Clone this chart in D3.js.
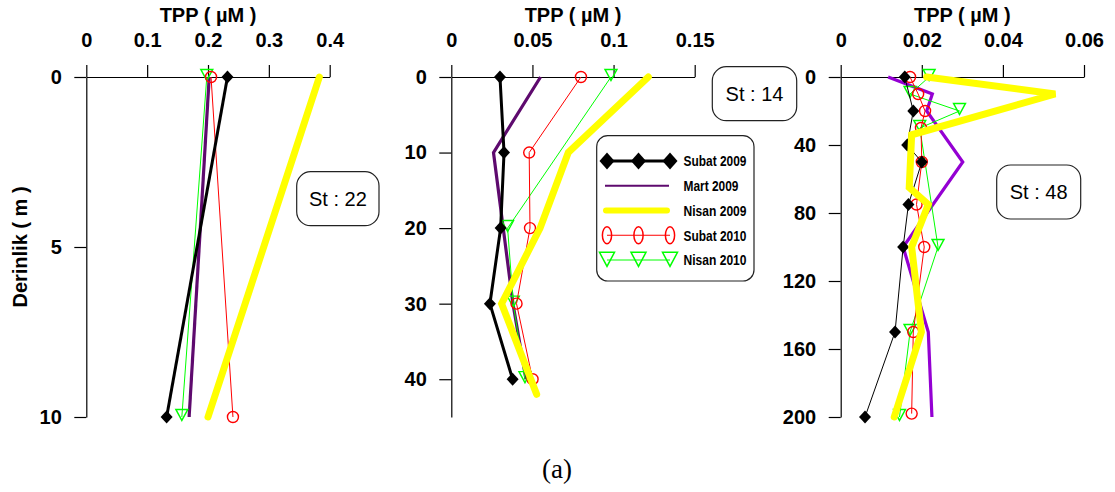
<!DOCTYPE html>
<html>
<head>
<meta charset="utf-8">
<script src="https://cdn.jsdelivr.net/npm/d3@7"></script>
<style>
  html, body { margin: 0; padding: 0; background: #fff; }
  svg { display: block; }
  text { font-family: "Liberation Sans", Arial, sans-serif; }
</style>
</head>
<body>
<svg id="chart" width="1115" height="492"></svg>
<script>
// ---- Series names (legend order) ----
const seriesNames = ["Subat 2009", "Mart 2009", "Nisan 2009", "Subat 2010", "Nisan 2010"];

// ---- Station labels ----
const stationLabels = ["St : 22", "St : 14", "St : 48"];

// ---- Axis ticks per station ----
const st22XTicks = [0, 0.1, 0.2, 0.3, 0.4];
const st22YTicks = [0, 5, 10];
const st14XTicks = [0, 0.05, 0.1, 0.15];
const st14YTicks = [0, 10, 20, 30, 40];
const st48XTicks = [0, 0.02, 0.04, 0.06];
const st48YTicks = [0, 40, 80, 120, 160, 200];

// ---- TPP (µM) profiles: [depth (m), value] ----
// St 22
const st22Subat2009 = [[0, 0.232], [10, 0.132]];
const st22Mart2009  = [[0, 0.202], [10, 0.169]];
const st22Nisan2009 = [[0, 0.383], [10, 0.200]];
const st22Subat2010 = [[0, 0.205], [10, 0.241]];
const st22Nisan2010 = [[0, 0.198], [10, 0.157]];

// St 14
const st14Subat2009 = [[0, 0.030], [10, 0.0325], [20, 0.0304], [30, 0.0238], [40, 0.0378]];
const st14Mart2009  = [[0, 0.055], [10, 0.026], [30, 0.038], [40, 0.046]];
const st14Nisan2009 = [[0, 0.1214], [10, 0.0721], [20, 0.0547], [30, 0.031], [42, 0.0526]];
const st14Subat2010 = [[0, 0.0799], [10, 0.048], [20, 0.0485], [30, 0.0402], [40, 0.0501]];
const st14Nisan2010 = [[0, 0.0984], [20, 0.0347], [30, 0.0382], [40, 0.0454]];

// St 48
const st48Subat2009 = [[0, 0.0158], [20, 0.0179], [40, 0.0164], [50, 0.0200], [75, 0.0167], [100, 0.0154], [150, 0.0134], [200, 0.0060]];
const st48Mart2009  = [[0, 0.0117], [10, 0.0226], [20, 0.0212], [50, 0.0301], [100, 0.0154], [150, 0.0216], [200, 0.0225]];
const st48Nisan2009 = [[0, 0.0212], [10, 0.0529], [34, 0.0175], [65, 0.0169], [75, 0.0216], [100, 0.0175], [150, 0.0199], [200, 0.0132]];
const st48Subat2010 = [[0, 0.0171], [10, 0.0191], [20, 0.0208], [30, 0.0198], [50, 0.0200], [75, 0.0187], [100, 0.0206], [150, 0.0179], [198, 0.0175]];
const st48Nisan2010 = [[0, 0.0218], [10, 0.0171], [20, 0.0293], [30, 0.0195], [100, 0.0240], [150, 0.0171], [200, 0.0145]];

// ---- Layout / styling ----
const svg = d3.select("#chart");

const panels = [
  { left: 86.3, right: 329.7, xMax: 0.4, yMax: 10, xTicks: st22XTicks, yTicks: st22YTicks,
    data: [st22Subat2009, st22Mart2009, st22Nisan2009, st22Subat2010, st22Nisan2010],
    thinBlack: false, purple: "#5e0a6e", box: { x: 296.7, y: 171.7, w: 82.3, h: 54 }, yTitle: true },
  { left: 451.3, right: 694.7, xMax: 0.15, yMax: 45, xTicks: st14XTicks, yTicks: st14YTicks,
    data: [st14Subat2009, st14Mart2009, st14Nisan2009, st14Subat2010, st14Nisan2010],
    thinBlack: false, purple: "#5e0a6e", box: { x: 712.3, y: 66.7, w: 84.4, h: 54 }, legend: true },
  { left: 840.7, right: 1084, xMax: 0.06, yMax: 200, xTicks: st48XTicks, yTicks: st48YTicks,
    data: [st48Subat2009, st48Mart2009, st48Nisan2009, st48Subat2010, st48Nisan2010],
    thinBlack: true, purple: "#9400d3", box: { x: 996.7, y: 165, w: 84, h: 54 } }
];

const plotTop = 77, plotBottom = 417;
const fmt = d => String(d);

function diamondPath(w, h) {
  return `M0,${-h / 2}L${w / 2},0L0,${h / 2}L${-w / 2},0Z`;
}
function triDownPath(w, h) {
  // downward-pointing triangle centred on its point
  return `M${-w / 2},${-h * 0.55}L${w / 2},${-h * 0.55}L0,${h * 0.45}Z`;
}

panels.forEach((p, i) => {
  const x = d3.scaleLinear().domain([0, p.xMax]).range([p.left, p.right]);
  const y = d3.scaleLinear().domain([0, p.yMax]).range([plotTop, plotBottom]);
  const g = svg.append("g");

  // axes
  const xAxis = d3.axisTop(x).tickValues(p.xTicks).tickFormat(fmt)
    .tickSize(12).tickSizeOuter(0).tickPadding(18);
  const yAxis = d3.axisLeft(y).tickValues(p.yTicks).tickFormat(fmt)
    .tickSize(12).tickSizeOuter(0).tickPadding(12.5);

  const gx = g.append("g").attr("transform", `translate(0,${plotTop})`).call(xAxis);
  const gy = g.append("g").attr("transform", `translate(${p.left},0)`).call(yAxis);
  [gx, gy].forEach(a => {
    a.selectAll("path.domain").attr("stroke", "#000").attr("stroke-width", 1.2);
    a.selectAll(".tick line").attr("stroke", "#000").attr("stroke-width", 1.2);
    a.selectAll(".tick text").attr("fill", "#000")
      .style("font-size", "20px").style("font-weight", "bold")
      .style("font-family", '"Liberation Sans", Arial, sans-serif');
  });

  // x-axis title
  g.append("text")
    .attr("x", (p.left + p.right) / 2).attr("y", 22)
    .attr("text-anchor", "middle")
    .style("font-size", "20px").style("font-weight", "bold")
    .text("TPP ( µM )");

  if (p.yTitle) {
    g.append("text")
      .attr("transform", `translate(27,247) rotate(-90)`)
      .attr("text-anchor", "middle")
      .style("font-size", "20px").style("font-weight", "bold")
      .text("Derinlik ( m )");
  }

  const line = d3.line().x(d => x(d[1])).y(d => y(d[0]));
  const [sub09, mar09, nis09, sub10, nis10] = p.data;

  // Mart 2009
  g.append("path").datum(mar09).attr("d", line)
    .attr("fill", "none").attr("stroke", p.purple).attr("stroke-width", 3.2)
    .attr("stroke-linejoin", "miter");

  // Nisan 2010
  g.append("path").datum(nis10).attr("d", line)
    .attr("fill", "none").attr("stroke", "#00ff00").attr("stroke-width", 1);
  g.selectAll(null).data(nis10).enter().append("path")
    .attr("d", triDownPath(12, 11))
    .attr("transform", d => `translate(${x(d[1])},${y(d[0]) - 1.5})`)
    .attr("fill", "none").attr("stroke", "#00ff00").attr("stroke-width", 1.4);

  // Subat 2010
  g.append("path").datum(sub10).attr("d", line)
    .attr("fill", "none").attr("stroke", "#ff0000").attr("stroke-width", 1);
  g.selectAll(null).data(sub10).enter().append("circle")
    .attr("cx", d => x(d[1])).attr("cy", d => y(d[0])).attr("r", 5.5)
    .attr("fill", "none").attr("stroke", "#ff0000").attr("stroke-width", 1.4);

  // Subat 2009
  g.append("path").datum(sub09).attr("d", line)
    .attr("fill", "none").attr("stroke", "#000").attr("stroke-width", p.thinBlack ? 1 : 3);
  g.selectAll(null).data(sub09).enter().append("path")
    .attr("d", diamondPath(12, 13))
    .attr("transform", d => `translate(${x(d[1])},${y(d[0])})`)
    .attr("fill", "#000");

  // Nisan 2009
  g.append("path").datum(nis09).attr("d", line)
    .attr("fill", "none").attr("stroke", "#ffff00").attr("stroke-width", 7)
    .attr("stroke-linejoin", "miter").attr("stroke-linecap", "round");

  // station box
  g.append("rect")
    .attr("x", p.box.x).attr("y", p.box.y).attr("width", p.box.w).attr("height", p.box.h)
    .attr("rx", 14).attr("ry", 14)
    .attr("fill", "#fff").attr("stroke", "#222").attr("stroke-width", 1.2);
  g.append("text")
    .attr("x", p.box.x + p.box.w / 2).attr("y", p.box.y + p.box.h / 2)
    .attr("dy", "0.35em").attr("text-anchor", "middle")
    .style("font-size", "20px")
    .text(stationLabels[i]);

  if (p.legend) drawLegend();
});

function drawLegend() {
  const lg = svg.append("g");
  lg.append("rect")
    .attr("x", 596.7).attr("y", 135.7).attr("width", 157.3).attr("height", 145.3)
    .attr("rx", 11).attr("ry", 11)
    .attr("fill", "#fff").attr("stroke", "#222").attr("stroke-width", 1.2);

  const rowY = d3.scalePoint().domain(seriesNames).range([161, 260]);
  const x0 = 607, x1 = 670, xm = (x0 + x1) / 2;
  const markX = [x0, xm, x1];

  seriesNames.forEach((name, k) => {
    const yy = rowY(name);
    const row = lg.append("g");
    if (k === 0) {
      row.append("line").attr("x1", x0).attr("x2", x1).attr("y1", yy).attr("y2", yy)
        .attr("stroke", "#000").attr("stroke-width", 3);
      markX.forEach(mx => row.append("path").attr("d", diamondPath(15, 17))
        .attr("transform", `translate(${mx},${yy})`).attr("fill", "#000"));
    } else if (k === 1) {
      row.append("line").attr("x1", x0 - 2).attr("x2", x1 - 1).attr("y1", yy).attr("y2", yy)
        .attr("stroke", "#5e0a6e").attr("stroke-width", 2.2);
    } else if (k === 2) {
      row.append("line").attr("x1", x0 - 1).attr("x2", x1 - 3).attr("y1", yy).attr("y2", yy)
        .attr("stroke", "#ffff00").attr("stroke-width", 6).attr("stroke-linecap", "round");
    } else if (k === 3) {
      row.append("line").attr("x1", x0).attr("x2", x1).attr("y1", yy).attr("y2", yy)
        .attr("stroke", "#ff0000").attr("stroke-width", 1);
      markX.forEach(mx => row.append("ellipse").attr("cx", mx).attr("cy", yy)
        .attr("rx", 4.6).attr("ry", 8.5)
        .attr("fill", "none").attr("stroke", "#ff0000").attr("stroke-width", 1.5));
    } else {
      row.append("line").attr("x1", x0).attr("x2", x1).attr("y1", yy).attr("y2", yy)
        .attr("stroke", "#00ff00").attr("stroke-width", 1);
      markX.forEach(mx => row.append("path").attr("d", triDownPath(15, 14))
        .attr("transform", `translate(${mx},${yy})`)
        .attr("fill", "none").attr("stroke", "#00ff00").attr("stroke-width", 1.5));
    }
    row.append("text")
      .attr("x", 683.5).attr("y", yy).attr("dy", "0.36em")
      .attr("textLength", [63, 55, 63, 63, 63][k]).attr("lengthAdjust", "spacingAndGlyphs")
      .style("font-size", "15px").style("font-weight", "bold")
      .text(name);
  });
}

// caption
svg.append("text")
  .attr("x", 557).attr("y", 478).attr("text-anchor", "middle")
  .style("font-family", '"Liberation Serif", "Times New Roman", serif')
  .style("font-size", "27px")
  .text("(a)");
</script>
</body>
</html>
